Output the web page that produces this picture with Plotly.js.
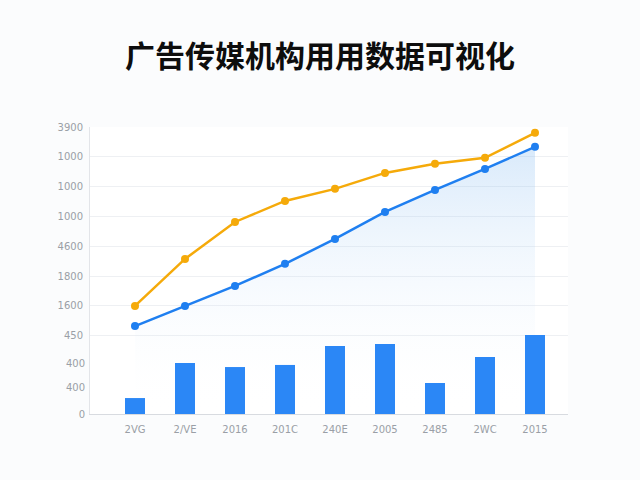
<html><head>
<meta charset="utf-8"/>
<title>广告传媒机构用用数据可视化</title>
<script src="https://cdn.plot.ly/plotly-3.0.1.min.js"></script>
<style>
  * { margin: 0px; padding: 0px }
  #chart { width: 640px; height: 480px }
</style>
</head><body>
<div id="chart"></div>
<script>
// categories (labels as printed in the picture)
var cats = ['2VG', '2/VE', '2016', '201C', '240E', '2005', '2485', '2WC', '2015'];
var catIdx = [0, 1, 2, 3, 4, 5, 6, 7, 8];

// series values
var barVals = [107, 342, 315, 329, 456, 470, 208, 382, 530];
var blueVals = [590, 725, 859, 1007, 1174, 1355, 1503, 1644, 1792];
var orangeVals = [725, 1040, 1288, 1429, 1510, 1617, 1678, 1718, 1886];

// y tick labels: the upper ones carry gridlines, the lower ones do not
var yGridVals = [525, 725, 925, 1125, 1325, 1525, 1725, 1925];
var yGridText = ['450', '1600', '1800', '4600', '1000', '1000', '1000', '3900'];
var yLowVals = [0, 180, 340];
var yLowText = ['0', '400', '400'];

var traces = [
    {
        x: catIdx, y: blueVals, type: 'scatter', mode: 'lines+markers',
        line: {color: '#1f7ff0', width: 2.5},
        marker: {color: '#1f7ff0', size: 8},
        fill: 'tozeroy',
        fillgradient: {
            type: 'vertical',
            colorscale: [[0, 'rgba(255,255,255,0)'], [1, 'rgba(120,180,240,0.28)']]
        }
    },
    {
        x: catIdx, y: orangeVals, type: 'scatter', mode: 'lines+markers',
        line: {color: '#f5aa0a', width: 2.5},
        marker: {color: '#f5aa0a', size: 8}
    },
    {
        // bars sit on the second (same-scale) axis that holds the low tick labels
        x: catIdx, y: barVals, type: 'bar', yaxis: 'y2',
        width: 0.4,
        marker: {color: '#2b87f6'},
        hoverinfo: 'y'
    }
];

var tickFont = {family: 'DejaVu Sans', size: 10, color: '#9a9fa6'};

var layout = {
    width: 640, height: 480,
    showlegend: false,
    paper_bgcolor: '#fbfcfd',
    plot_bgcolor: '#ffffff',
    margin: {l: 90, r: 72, t: 127, b: 66},
    title: {
        text: '<b>广告传媒机构用用数据可视化</b>',
        x: 0.5, xanchor: 'center',
        y: 0.882, yanchor: 'middle',
        font: {family: 'Noto Sans CJK SC', size: 30, color: '#0d0d0d'}
    },
    xaxis: {
        range: [-0.9, 8.66],
        tickvals: catIdx, ticktext: cats,
        showgrid: false, zeroline: false,
        showline: true, linecolor: '#d8dbe0', linewidth: 1,
        ticks: '', ticklabelstandoff: 6,
        tickfont: tickFont
    },
    yaxis: {
        range: [0, 1925],
        tickvals: yGridVals, ticktext: yGridText,
        showgrid: true, gridcolor: '#eef0f3', gridwidth: 1,
        zeroline: false,
        showline: true, linecolor: '#e3e5e9', linewidth: 1,
        ticks: '', ticklabelstandoff: 4,
        tickfont: tickFont
    },
    yaxis2: {
        overlaying: 'y', side: 'left',
        range: [0, 1925],
        tickvals: yLowVals, ticktext: yLowText,
        showgrid: false, zeroline: false, showline: false,
        ticks: '', ticklabelstandoff: 4,
        tickfont: tickFont
    },
    bargap: 0.6
};

Plotly.newPlot('chart', traces, layout, {displayModeBar: false, staticPlot: true});
</script>
</body></html>
